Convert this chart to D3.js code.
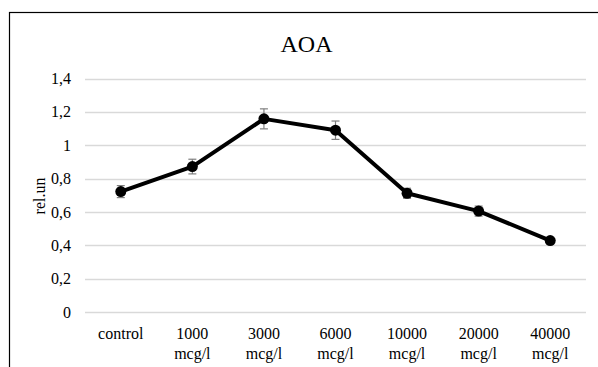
<!DOCTYPE html>
<html>
<head>
<meta charset="utf-8">
<script src="https://cdn.jsdelivr.net/npm/d3@7"></script>
<style>
  body { margin: 0; background: #fff; }
  svg text { font-family: "Liberation Serif", "Times New Roman", serif; fill: #000; }
  .axis path, .axis line { display: none; }
</style>
</head>
<body>
<div id="chart"></div>
<script>

var categories = [["control"], ["1000", "mcg/l"], ["3000", "mcg/l"], ["6000", "mcg/l"],
                  ["10000", "mcg/l"], ["20000", "mcg/l"], ["40000", "mcg/l"]];
var values = [0.722, 0.872, 1.158, 1.09, 0.712, 0.605, 0.428];
var errors = [0.036, 0.044, 0.06, 0.055, 0.03, 0.03, 0.01];
var yTicks = [0, 0.2, 0.4, 0.6, 0.8, 1, 1.2, 1.4];

var width = 598, height = 367;
var margin = { left: 85, right: 12, top: 78.5, bottom: 55 };

var svg = d3.select("#chart")
  .append("svg")
  .attr("width", width)
  .attr("height", height);

// outer frame (right and bottom run off the picture)
svg.append("rect")
  .attr("x", 9.5).attr("y", 12.5)
  .attr("width", 700).attr("height", 500)
  .attr("fill", "none")
  .attr("stroke", "#000")
  .attr("stroke-width", 1.2);

var x = d3.scaleBand()
  .domain(d3.range(categories.length))
  .range([margin.left, width - margin.right]);

var y = d3.scaleLinear()
  .domain([0, 1.4])
  .range([height - margin.bottom, margin.top]);

// gridlines
svg.append("g")
  .selectAll("line")
  .data(yTicks).enter()
  .append("line")
  .attr("x1", margin.left)
  .attr("x2", width - margin.right)
  .attr("y1", function(d){ return Math.round(y(d)) + 0.5 })
  .attr("y2", function(d){ return Math.round(y(d)) + 0.5 })
  .attr("stroke", "#d9d9d9")
  .attr("stroke-width", 1.3);

var yAxis = d3.axisLeft(y)
  .tickValues(yTicks)
  .tickSize(0)
  .tickPadding(14)
  .tickFormat(function(d){ return String(d).replace(".", ","); });

svg.append("g")
  .attr("class", "axis")
  .attr("transform", "translate(" + margin.left + ",0)")
  .call(yAxis)
  .attr("font-family", null)
  .attr("font-size", 16);

// category labels, two lines each
var xl = svg.append("g")
  .selectAll("text")
  .data(categories).enter()
  .append("text")
  .attr("text-anchor", "middle")
  .attr("x", function(d, i){ return x(i) + x.bandwidth() / 2 })
  .attr("y", 339)
  .attr("font-size", 16);

xl.selectAll("tspan")
  .data(function(d){ return d; }).enter()
  .append("tspan")
  .attr("x", function(){ return d3.select(this.parentNode).attr("x") })
  .attr("dy", function(d, j){ return j ? 20 : 0 })
  .text(function(d){ return d });

// title
svg.append("text")
  .attr("x", 306.5)
  .attr("y", 52)
  .attr("text-anchor", "middle")
  .attr("font-size", 24)
  .text("AOA");

// y label
svg.append("text")
  .attr("transform", "translate(45,196) rotate(-90)")
  .attr("text-anchor", "middle")
  .attr("font-size", 16)
  .text("rel.un");

var cx = function(d, i){ return x(i) + x.bandwidth() / 2 };

// error bars
var eb = svg.append("g")
  .selectAll("g")
  .data(values).enter()
  .append("g")
  .attr("stroke", "#7f7f7f")
  .attr("stroke-width", 1.2);

eb.append("line")
  .attr("x1", cx).attr("x2", cx)
  .attr("y1", function(d, i){ return y(d + errors[i]) })
  .attr("y2", function(d, i){ return y(d - errors[i]) });

eb.append("line")
  .attr("x1", function(d, i){ return cx(d, i) - 4 })
  .attr("x2", function(d, i){ return cx(d, i) + 4 })
  .attr("y1", function(d, i){ return y(d + errors[i]) })
  .attr("y2", function(d, i){ return y(d + errors[i]) });

eb.append("line")
  .attr("x1", function(d, i){ return cx(d, i) - 4 })
  .attr("x2", function(d, i){ return cx(d, i) + 4 })
  .attr("y1", function(d, i){ return y(d - errors[i]) })
  .attr("y2", function(d, i){ return y(d - errors[i]) });

var line = d3.line()
  .x(cx)
  .y(function(d){ return y(d) });

svg.append("path")
  .datum(values)
  .attr("d", line)
  .attr("fill", "none")
  .attr("stroke", "#000")
  .attr("stroke-width", 4)
  .attr("stroke-linejoin", "round");

svg.append("g")
  .selectAll("circle")
  .data(values).enter()
  .append("circle")
  .attr("cx", cx)
  .attr("cy", function(d){ return y(d) })
  .attr("r", 5.5)
  .attr("fill", "#000");

</script>
</body>
</html>
